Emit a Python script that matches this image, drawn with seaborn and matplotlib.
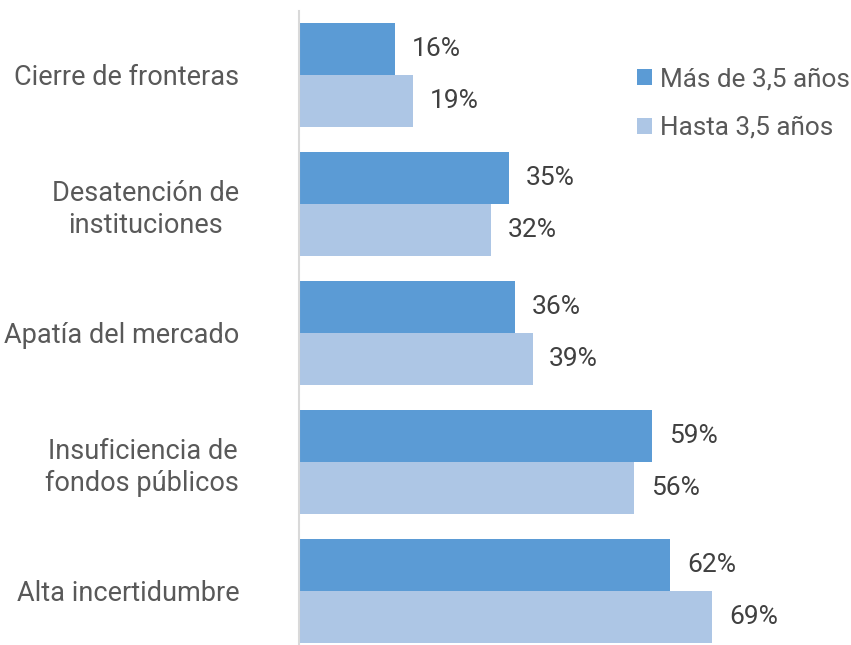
import matplotlib
matplotlib.use("Agg")
import matplotlib.pyplot as plt
import seaborn as sns
import pandas as pd

categories = [
    "Cierre de fronteras",
    "Desatención de\ninstituciones",
    "Apatía del mercado",
    "Insuficiencia de\nfondos públicos",
    "Alta incertidumbre",
]
series_names = ["Más de 3,5 años", "Hasta 3,5 años"]
mas_de = [16, 35, 36, 59, 62]
hasta = [19, 32, 39, 56, 69]
colors = ["#5B9BD5", "#ADC6E5"]

df = pd.DataFrame({
    "categoria": categories * 2,
    "grupo": [series_names[0]] * len(categories) + [series_names[1]] * len(categories),
    "valor": mas_de + hasta,
})

sns.set_style("white")
plt.rcParams["font.family"] = ["Roboto", "DejaVu Sans"]

W, H = 851, 645
fig = plt.figure(figsize=(W / 100, H / 100), dpi=100)
ax = fig.add_axes([299 / W, 0.0, 551 / W, (H - 10.5) / H])

sns.barplot(
    data=df, y="categoria", x="valor", hue="grupo",
    order=categories, hue_order=series_names,
    palette=colors, orient="h", width=0.806, ax=ax,
    saturation=1, errorbar=None, linewidth=0,
)

ax.set_xlim(0, 92)
ax.set_ylim(4.42, -0.5)
ax.set_xlabel("")
ax.set_ylabel("")
ax.set_xticks([])

for side in ["top", "right", "bottom"]:
    ax.spines[side].set_visible(False)
ax.spines["left"].set_color("#D9D9D9")
ax.spines["left"].set_linewidth(1.5)

ax.tick_params(axis="y", length=0, pad=43, labelsize=19.5, labelcolor="#595959")
for lab in ax.get_yticklabels():
    lab.set_multialignment("center")
    lab.set_linespacing(1.25)

for container in ax.containers:
    ax.bar_label(container, labels=[f"{int(v)}%" for v in container.datavalues],
                 padding=12, fontsize=19, color="#404040")

leg = ax.legend(
    loc="upper left", bbox_to_anchor=((637 - 299) / 551, (H - 67) / (H - 10.5)),
    frameon=False, fontsize=18.8, handlelength=0.57, handleheight=0.57,
    handletextpad=0.3, labelspacing=0.95, borderaxespad=0, borderpad=0,
)
for t in leg.get_texts():
    t.set_color("#595959")

fig.savefig("out.png", dpi=100)
